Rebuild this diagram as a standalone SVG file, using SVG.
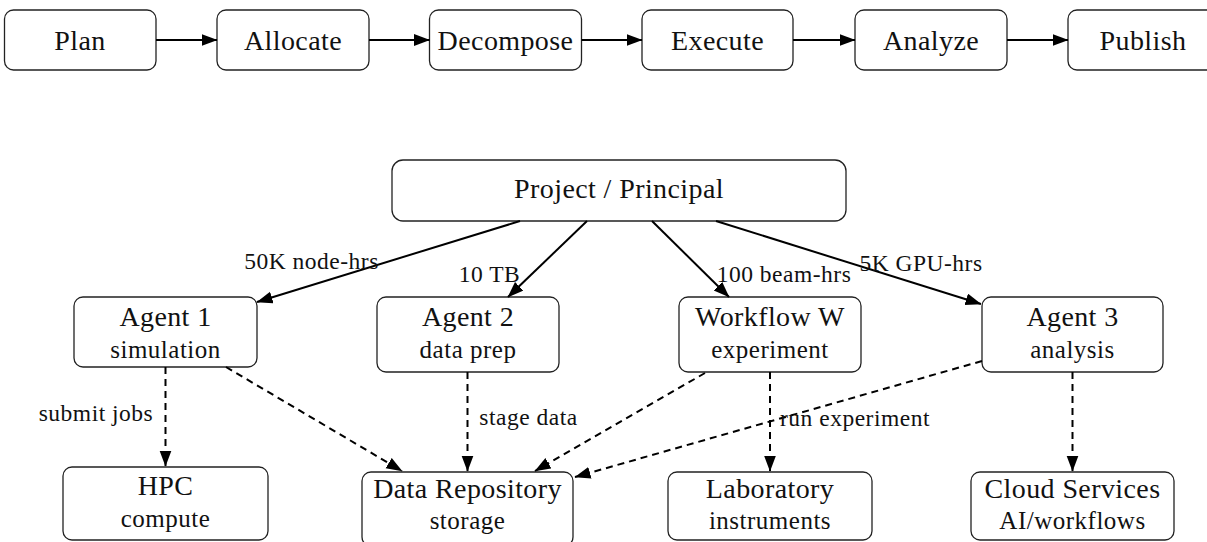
<svg xmlns="http://www.w3.org/2000/svg" width="1207" height="542" viewBox="0 0 1207 542">
  <defs>
    <marker id="tip" markerUnits="userSpaceOnUse" markerWidth="17" markerHeight="13" refX="15.5" refY="6" orient="auto">
      <path d="M0,0 L16,6 L0,12 Z" fill="#000"/>
    </marker>
    <style>
      .box { fill: #fff; stroke: #222; stroke-width: 1.3; }
      text { font-family: "Liberation Serif", "DejaVu Serif", serif; fill: #111; text-anchor: middle; }
      .t { font-size: 28px; letter-spacing: 0.4px; }
      .s { font-size: 25px; letter-spacing: 0.5px; }
      .lbl { font-size: 23.5px; letter-spacing: 0.5px; }
      .solid { fill: none; stroke: #000; stroke-width: 2; marker-end: url(#tip); }
      .dash { fill: none; stroke: #000; stroke-width: 2; stroke-dasharray: 7 5; marker-end: url(#tip); }
    </style>
  </defs>
  <rect width="1207" height="542" fill="#fff"/>

  <!-- pipeline stages -->
  <g id="plan"><rect class="box" x="4.5" y="10" width="151.5" height="60" rx="9"/><text class="t" x="80" y="50">Plan</text></g>
  <g id="allocate"><rect class="box" x="217" y="10" width="152" height="60" rx="9"/><text class="t" x="293" y="50">Allocate</text></g>
  <g id="decompose"><rect class="box" x="429.5" y="10" width="152" height="60" rx="9"/><text class="t" x="505.5" y="50">Decompose</text></g>
  <g id="execute"><rect class="box" x="642" y="10" width="151" height="60" rx="9"/><text class="t" x="717.5" y="50">Execute</text></g>
  <g id="analyze"><rect class="box" x="855" y="10" width="152" height="60" rx="9"/><text class="t" x="931" y="50">Analyze</text></g>
  <g id="publish"><rect class="box" x="1068" y="10" width="152" height="60" rx="9"/><text class="t" x="1143" y="50">Publish</text></g>

  <!-- allocation hierarchy -->
  <g id="project"><rect class="box" x="392" y="160" width="454" height="61" rx="11"/><text class="t" x="619" y="198">Project / Principal</text></g>

  <g id="agent1"><rect class="box" x="74" y="297" width="183" height="70" rx="9"/><text class="t" x="165.5" y="326">Agent 1</text><text class="s" x="165.5" y="358">simulation</text></g>
  <g id="agent2"><rect class="box" x="377" y="297" width="182" height="75" rx="9"/><text class="t" x="468" y="326">Agent 2</text><text class="s" x="468" y="358">data prep</text></g>
  <g id="workflow"><rect class="box" x="679" y="297" width="182" height="75" rx="9"/><text class="t" x="770" y="326">Workflow W</text><text class="s" x="770" y="358">experiment</text></g>
  <g id="agent3"><rect class="box" x="982" y="297" width="181" height="75" rx="9"/><text class="t" x="1072.5" y="326">Agent 3</text><text class="s" x="1072.5" y="358">analysis</text></g>

  <g id="hpc"><rect class="box" x="63" y="467" width="205" height="73" rx="9"/><text class="t" x="165.5" y="495">HPC</text><text class="s" x="165.5" y="527">compute</text></g>
  <g id="repository"><rect class="box" x="362" y="472" width="211" height="74" rx="9"/><text class="t" x="467.5" y="498">Data Repository</text><text class="s" x="467.5" y="529">storage</text></g>
  <g id="laboratory"><rect class="box" x="668" y="472" width="204" height="68" rx="9"/><text class="t" x="770" y="498">Laboratory</text><text class="s" x="770" y="529">instruments</text></g>
  <g id="cloud"><rect class="box" x="971" y="472" width="203" height="68" rx="9"/><text class="t" x="1072.5" y="498">Cloud Services</text><text class="s" x="1072.5" y="529">AI/workflows</text></g>

  <g id="connectors">
    <!-- pipeline -->
    <line class="solid" x1="156" y1="40" x2="217" y2="40"/>
    <line class="solid" x1="369" y1="40" x2="429.5" y2="40"/>
    <line class="solid" x1="581.5" y1="40" x2="642" y2="40"/>
    <line class="solid" x1="793" y1="40" x2="855" y2="40"/>
    <line class="solid" x1="1007" y1="40" x2="1068" y2="40"/>

    <!-- allocations -->
    <line class="solid" x1="520" y1="221" x2="257" y2="302"/>
    <line class="solid" x1="587" y1="221" x2="508" y2="297"/>
    <line class="solid" x1="652" y1="221" x2="729" y2="297"/>
    <line class="solid" x1="716" y1="221" x2="981" y2="304"/>

    <!-- resource usage -->
    <line class="dash" x1="165.5" y1="367" x2="165.5" y2="466"/>
    <line class="dash" x1="226" y1="367" x2="402" y2="471"/>
    <line class="dash" x1="467.5" y1="372" x2="467.5" y2="471"/>
    <line class="dash" x1="705" y1="373" x2="535" y2="471"/>
    <line class="dash" x1="982" y1="361" x2="575" y2="477"/>
    <line class="dash" x1="770" y1="372" x2="770" y2="471"/>
    <line class="dash" x1="1072.5" y1="372" x2="1072.5" y2="471"/>

    <!-- labels -->
    <text class="lbl" x="311.5" y="269">50K node-hrs</text>
    <text class="lbl" x="489.5" y="282">10 TB</text>
    <text class="lbl" x="784" y="282">100 beam-hrs</text>
    <text class="lbl" x="921" y="271">5K GPU-hrs</text>
    <text class="lbl" x="96" y="421">submit jobs</text>
    <text class="lbl" x="528.5" y="425">stage data</text>
    <text class="lbl" x="855" y="426">run experiment</text>
  </g>
</svg>
